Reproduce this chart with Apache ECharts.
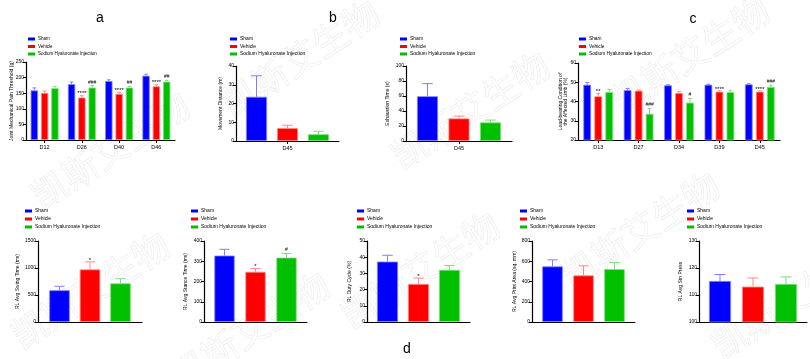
<!DOCTYPE html>
<html><head><meta charset="utf-8">
<script src="https://cdn.jsdelivr.net/npm/echarts@6/dist/echarts.min.js"></script>
<style>html,body{margin:0;padding:0;background:#fff}#c{width:810px;height:359px}</style>
</head><body><div id="c"></div>
<script>
// ---------------- DATA ----------------
const groupNames = ['Sham', 'Vehicle', 'Sodium Hyaluronate Injection'];

// Panel a: Joint Mechanical Pain Threshold (g)
const aCategories = ['D12', 'D26', 'D40', 'D46'];
const aSham = [159, 179, 189, 206];
const aShamErr = [8, 7, 4, 5];
const aVehicle = [151, 136, 148, 172];
const aVehicleErr = [6, 6, 5, 5];
const aSHI = [166, 168, 168, 187];
const aSHIErr = [6, 6, 4, 4];
const aVehicleSig = ['', '****', '****', '****'];
const aSHISig = ['', '###', '##', '##'];
const aTicks = [0, 250, 50];

// Panel b: Movement Distance (m)
const bCategories = ['D45'];
const bSham = [23.6]; const bShamErr = [11.2];
const bVehicle = [6.9]; const bVehicleErr = [1.5];
const bSHI = [3.6]; const bSHIErr = [1.6];
const bTicks = [0, 40, 10];

// Panel b2: Exhaustion Time (s)
const b2Categories = ['D45'];
const b2Sham = [59.7]; const b2ShamErr = [16.8];
const b2Vehicle = [30.1]; const b2VehicleErr = [3.1];
const b2SHI = [24.8]; const b2SHIErr = [3.1];
const b2Ticks = [0, 100, 20];

// Panel c: Load-bearing Condition of the Affected Limb (%)
const cCategories = ['D13', 'D27', 'D34', 'D39', 'D45'];
const cSham = [48.7, 45.9, 48.4, 48.7, 48.9];
const cShamErr = [1.2, 0.9, 0.3, 0.3, 0.3];
const cVehicle = [42.7, 45.6, 44.4, 45.1, 45.1];
const cVehicleErr = [1.5, 0.3, 0.7, 0.4, 0.4];
const cSHI = [44.9, 33.6, 39.4, 44.9, 47.5];
const cSHIErr = [1.4, 2.7, 2.2, 0.9, 1.0];
const cVehicleSig = ['**', '', '', '****', '****'];
const cSHISig = ['', '###', '#', '', '###'];
const cTicks = [20, 60, 10];

// Panel d (gait parameters)
const dCategories = [''];
const d1Values = [588, 974, 716]; const d1Errs = [73, 140, 86]; const d1Sig = ['', '*', ''];
const d1Ticks = [0, 1500, 500];
const d2Values = [328, 248, 318]; const d2Errs = [31, 16, 20]; const d2Sig = ['', '*', '#'];
const d2Ticks = [0, 400, 100];
const d3Values = [37.3, 23.5, 32.2]; const d3Errs = [3.9, 3.6, 2.7]; const d3Sig = ['', '*', ''];
const d3Ticks = [0, 50, 10];
const d4Values = [549, 460, 522]; const d4Errs = [65, 95, 66]; const d4Sig = ['', '', ''];
const d4Ticks = [0, 800, 200];
const d5Values = [115.2, 113.1, 114.1]; const d5Errs = [2.4, 3.2, 2.6]; const d5Sig = ['', '', ''];
const d5Ticks = [100, 130, 10];

const panelTitles = ['a', 'b', 'c', 'd'];
const watermarkText = '凯斯艾生物';

// ---------------- BUILD ----------------
const colors = ['#0000ff', '#ff0000', '#00c000'];
const lightColors = ['#8080ff', '#ff8a8a', '#80dd80'];
const FONT = '"Liberation Sans", Arial, sans-serif';

const panels = [
  {cats: aCategories, vals: [aSham, aVehicle, aSHI], errs: [aShamErr, aVehicleErr, aSHIErr], sigs: [[], aVehicleSig, aSHISig], ticks: aTicks, yName: 'Joint Mechanical Pain Threshold (g)',
   L: 26, T: 62, W: 149, H: 78, bw: 7.3, step: 10.3, nameGap: 11.5, legL: 28, legT: 36.5, legFs: 4.5, tick: true},
  {cats: bCategories, vals: [bSham, bVehicle, bSHI], errs: [bShamErr, bVehicleErr, bSHIErr], sigs: [[], [], []], ticks: bTicks, yName: 'Movement Distance (m)',
   L: 236, T: 66, W: 103, H: 75, bw: 21, step: 31, nameGap: 12.5, legL: 230, legT: 36.5, legFs: 5, tick: true},
  {cats: b2Categories, vals: [b2Sham, b2Vehicle, b2SHI], errs: [b2ShamErr, b2VehicleErr, b2SHIErr], sigs: [[], [], []], ticks: b2Ticks, yName: 'Exhaustion Time (s)',
   L: 406, T: 66, W: 106, H: 75, bw: 21, step: 31.5, nameGap: 15.5, legL: 400, legT: 36.5, legFs: 5, tick: true},
  {cats: cCategories, vals: [cSham, cVehicle, cSHI], errs: [cShamErr, cVehicleErr, cSHIErr], sigs: [[], cVehicleSig, cSHISig], ticks: cTicks, yName: 'Load-bearing Condition of\nthe Affected Limb (%)',
   L: 578, T: 63, W: 202, H: 77, bw: 7.7, step: 11, nameGap: 9, legL: 579, legT: 36.5, legFs: 4.8, tick: true},
];
const dSets = [
  [d1Values, d1Errs, d1Sig, d1Ticks, 'RL Avg Swing Time (ms)', 38, 104, 20.5, 30.5, 17.5, 25],
  [d2Values, d2Errs, d2Sig, d2Ticks, 'RL Avg Stance Time (ms)', 204, 103, 20.3, 31, 15.5, 191],
  [d3Values, d3Errs, d3Sig, d3Ticks, 'RL Duty Cycle (%)', 367, 103, 21, 31, 14.5, 357],
  [d4Values, d4Errs, d4Sig, d4Ticks, 'RL Avg Print Area (sq. mm)', 532, 103, 20.5, 31, 14.5, 520],
  [d5Values, d5Errs, d5Sig, d5Ticks, 'RL Avg Stn Press', 699, 108, 22, 33, 15.5, 687],
];
dSets.forEach(s => {
  panels.push({cats: dCategories, vals: [[s[0][0]], [s[0][1]], [s[0][2]]], errs: [[s[1][0]], [s[1][1]], [s[1][2]]],
    sigs: [[s[2][0]], [s[2][1]], [s[2][2]]], ticks: s[3], yName: s[4],
    L: s[5], T: 241, W: s[6], H: 81, bw: s[7], step: s[8], nameGap: s[9], legL: s[10], legT: 208.5, legFs: 5, tick: false, legPitch: 8});
});

const grids = [], xAxes = [], yAxes = [], series = [], legends = [];
panels.forEach((p, i) => {
  grids.push({left: p.L, top: p.T, width: p.W, height: p.H, containLabel: false});
  xAxes.push({type: 'category', gridIndex: i, data: p.cats,
    axisLine: {lineStyle: {color: '#000', width: 1.2}},
    axisTick: {show: p.tick, alignWithLabel: true, length: 3, lineStyle: {color: '#000', width: 1}},
    axisLabel: {show: p.tick, fontSize: 5.5, color: '#000', margin: 4, fontFamily: FONT}});
  yAxes.push({type: 'value', gridIndex: i, min: p.ticks[0], max: p.ticks[1], interval: p.ticks[2],
    axisLine: {show: true, lineStyle: {color: '#000', width: 1.2}},
    axisTick: {show: true, length: 3, lineStyle: {color: '#000', width: 1}},
    axisLabel: {fontSize: 5, color: '#000', margin: 2, fontFamily: FONT, formatter: v => String(v)},
    splitLine: {show: false},
    name: p.yName, nameLocation: 'middle', nameGap: p.nameGap, nameMoveOverlap: false,
    nameTextStyle: {fontSize: 5, color: '#000', fontFamily: FONT, lineHeight: 5.8}});
  const gapPct = ((p.step - p.bw) / p.bw * 100).toFixed(1) + '%';
  for (let g = 0; g < 3; g++) {
    series.push({type: 'bar', name: groupNames[g], xAxisIndex: i, yAxisIndex: i, data: p.vals[g],
      barWidth: p.bw, barGap: gapPct, clip: true,
      itemStyle: {color: colors[g], borderColor: lightColors[g], borderWidth: 0.8}});
  }
  for (let g = 0; g < 3; g++) {
    const errs = p.errs[g], sigs = p.sigs[g] || [];
    series.push({type: 'custom', name: 'err' + i + '_' + g, xAxisIndex: i, yAxisIndex: i, z: 5,
      data: p.vals[g].map((v, k) => [k, v, errs[k]]),
      renderItem: function (params, api) {
        const cat = api.value(0), v = api.value(1), e = api.value(2);
        const base = api.coord([cat, v]);
        const top = api.coord([cat, v + e]);
        const x = base[0] + (g - 1) * p.step;
        const cw = p.bw * 0.5;
        const children = [
          {type: 'line', shape: {x1: x, y1: base[1], x2: x, y2: top[1]}, style: {stroke: lightColors[g], lineWidth: 1}},
          {type: 'line', shape: {x1: x - cw / 2, y1: top[1], x2: x + cw / 2, y2: top[1]}, style: {stroke: lightColors[g], lineWidth: 1}}
        ];
        const sig = sigs[params.dataIndex];
        if (sig) {
          const isStar = sig.indexOf('*') >= 0;
          children.push({type: 'text', x: x, y: top[1] - (isStar ? -1 : 1),
            style: {text: sig, fill: '#000', font: (isStar ? '6px ' : '5px ') + FONT, align: 'center', verticalAlign: 'bottom'}});
        }
        return {type: 'group', children: children};
      }});
  }
  const pitch = p.legPitch || 7.5;
  legends.push({data: groupNames, orient: 'vertical', left: p.legL, top: p.legT, padding: 0,
    itemWidth: 7, itemHeight: 3, itemGap: pitch - 5, icon: 'rect', selectedMode: false,
    itemStyle: {borderWidth: 0},
    textStyle: {fontSize: p.legFs, lineHeight: 5, color: '#000', fontFamily: FONT, padding: [0, 0, 0, -2]}});
});

const graphics = [];
const wmPos = [[300, 58], [110, 150], [470, 110], [690, 55], [90, 290], [420, 270], [640, 230], [790, 300], [250, 330]];
wmPos.forEach(pt => {
  graphics.push({type: 'text', x: pt[0], y: pt[1], rotation: 33 * Math.PI / 180, z: -10, silent: true,
    style: {text: watermarkText, font: '36px "Noto Sans CJK SC"', fill: 'rgba(0,0,0,0)', stroke: '#ebebeb', lineWidth: 0.6,
      align: 'center', verticalAlign: 'middle'}});
});
const titlePos = [[100, 18], [333, 18], [693, 19], [407, 349]];
panelTitles.forEach((t, k) => {
  graphics.push({type: 'text', x: titlePos[k][0], y: titlePos[k][1], z: 10,
    style: {text: t, font: '14px ' + FONT, fill: '#000', align: 'center', verticalAlign: 'middle'}});
});

const chart = echarts.init(document.getElementById('c'), null, {renderer: 'canvas'});
chart.setOption({
  animation: false,
  backgroundColor: '#fff',
  grid: grids, xAxis: xAxes, yAxis: yAxes, series: series, legend: legends,
  graphic: graphics
});
</script></body></html>
